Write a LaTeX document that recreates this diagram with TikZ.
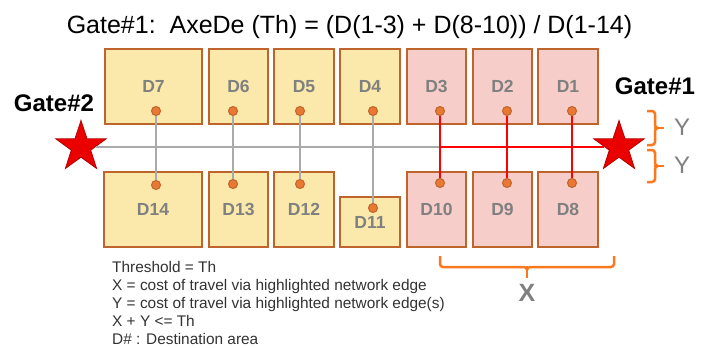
\documentclass[tikz,border=0pt]{standalone}
\usepackage{fontspec}
\setmainfont{Liberation Sans}
\usetikzlibrary{shapes.geometric}

\definecolor{areaYellow}{RGB}{250,233,170}
\definecolor{areaPink}{RGB}{246,205,200}
\definecolor{areaEdge}{RGB}{192,100,45}
\definecolor{dotFill}{RGB}{232,120,50}
\definecolor{labelGray}{RGB}{128,128,128}
\definecolor{edgeGray}{RGB}{170,170,170}
\definecolor{braceOrange}{RGB}{250,120,30}
\definecolor{noteText}{RGB}{50,50,50}
\definecolor{starRed}{RGB}{235,0,0}
\definecolor{starEdge}{RGB}{180,0,0}

\tikzset{
  area/.style={draw=areaEdge, line width=2.5pt, inner sep=0pt,
    text=labelGray, font=\fontsize{17.5}{20}\selectfont\bfseries},
  yarea/.style={area, fill=areaYellow},
  parea/.style={area, fill=areaPink},
  pin/.style={circle, draw=areaEdge, fill=dotFill, line width=1pt,
    minimum size=9pt, inner sep=0pt},
  gate/.style={star, star points=5, star point ratio=2.6, minimum size=53pt,
    inner sep=0pt, fill=starRed, draw=starEdge, line width=0.8pt},
  gatelabel/.style={font=\fontsize{24}{28}\selectfont\bfseries, text=black},
  greyedge/.style={draw=edgeGray, line width=2.7pt},
  rededge/.style={draw=red, line width=2.7pt},
  bracket/.style={draw=braceOrange, line width=2.5pt, rounded corners=3pt},
  note/.style={anchor=base west, inner sep=0pt, text=noteText,
    font=\fontsize{15.4}{18}\selectfont},
}

\begin{document}
\begin{tikzpicture}[x=1pt, y=-1pt]
\useasboundingbox (0,0) rectangle (707,348);

% title
\node[anchor=base, inner sep=0pt, font=\fontsize{25}{30}\selectfont] (title)
  at (349.5,33) {Gate\#1:\ \ AxeDe (Th) = (D(1-3) + D(8-10)) / D(1-14)};

% destination areas, upper row
\node[yarea, minimum width=97pt, minimum height=75pt] (b7) at (153.5,86.5) {D7};
\node[yarea, minimum width=59pt, minimum height=75pt] (b6) at (238.5,86.5) {D6};
\node[yarea, minimum width=60pt, minimum height=75pt] (b5) at (304,86.5) {D5};
\node[yarea, minimum width=60pt, minimum height=75pt] (b4) at (370,86.5) {D4};
\node[parea, minimum width=59pt, minimum height=75pt] (b3) at (436.5,86.5) {D3};
\node[parea, minimum width=59pt, minimum height=75pt] (b2) at (502.5,86.5) {D2};
\node[parea, minimum width=60pt, minimum height=75pt] (b1) at (568,86.5) {D1};

% destination areas, lower row
\node[yarea, minimum width=98pt, minimum height=75pt] (b14) at (153,209.5) {D14};
\node[yarea, minimum width=59pt, minimum height=75pt] (b13) at (238.5,209.5) {D13};
\node[yarea, minimum width=60pt, minimum height=75pt] (b12) at (304,209.5) {D12};
\node[yarea, minimum width=60pt, minimum height=50pt] (b11) at (370,222) {D11};
\node[parea, minimum width=59pt, minimum height=75pt] (b10) at (436.5,209.5) {D10};
\node[parea, minimum width=59pt, minimum height=75pt] (b9) at (502.5,209.5) {D9};
\node[parea, minimum width=60pt, minimum height=75pt] (b8) at (568,209.5) {D8};

% gates
\node[gate] (g2) at (81,147) {};
\node[gate] (g1) at (619,147) {};
\node[gatelabel] (g2t) at (54,103) {Gate\#2};
\node[gatelabel] (g1t) at (655,86) {Gate\#1};

% connection pins
\node[pin] (p7) at (156,111) {};
\node[pin] (p6) at (233,111) {};
\node[pin] (p5) at (300,111) {};
\node[pin] (p4) at (373,111) {};
\node[pin] (p3) at (440,111) {};
\node[pin] (p2) at (507,111) {};
\node[pin] (p1) at (572,111) {};
\node[pin] (q14) at (156,185) {};
\node[pin] (q13) at (233,184) {};
\node[pin] (q12) at (300,184) {};
\node[pin] (q11) at (373,208) {};
\node[pin] (q10) at (440,183) {};
\node[pin] (q9) at (507,183) {};
\node[pin] (q8) at (572,183) {};

% network edges
\coordinate (j3) at (440,147);
\draw[greyedge] (g2) -- (g1);
\draw[greyedge] (p7) -- (q14);
\draw[greyedge] (p6) -- (q13);
\draw[greyedge] (p5) -- (q12);
\draw[greyedge] (p4) -- (q11);
\draw[rededge] (j3) -- (g1);
\draw[rededge] (p3) -- (q10);
\draw[rededge] (p2) -- (q9);
\draw[rededge] (p1) -- (q8);

% Y brackets
\coordinate (ya) at (647,111);
\coordinate (yb) at (647,145);
\coordinate (yc) at (647,150);
\coordinate (yd) at (647,182);
\draw[bracket] (ya) -- (655,111) -- (655,128) -- (658,128);
\draw[bracket] (yb) -- (655,145) -- (655,128) -- (658,128);
\draw[bracket, rounded corners=0pt] (654,128) -- (664,128);
\draw[bracket] (yc) -- (655,150) -- (655,166) -- (658,166);
\draw[bracket] (yd) -- (655,182) -- (655,166) -- (658,166);
\draw[bracket, rounded corners=0pt] (654,166) -- (664,166);
\node[text=labelGray, font=\fontsize{24}{28}\selectfont] (y1) at (682,127) {Y};
\node[text=labelGray, font=\fontsize{24}{28}\selectfont] (y2) at (682,165) {Y};

% X bracket
\coordinate (xa) at (440,256);
\coordinate (xb) at (614,256);
\draw[bracket] (xa) -- (440,267) -- (527,267) -- (527,270);
\draw[bracket] (xb) -- (614,267) -- (527,267) -- (527,270);
\draw[bracket, rounded corners=0pt] (527,266) -- (527,278);
\node[text=labelGray, font=\fontsize{25}{30}\selectfont\bfseries] (xl) at (527,293) {X};

% notes
\node[note] (n1) at (112,272.5) {Threshold = Th};
\node[note] (n2) at (112,290.5) {X = cost of travel via highlighted network edge};
\node[note] (n3) at (112,308.5) {Y = cost of travel via highlighted network edge(s)};
\node[note] (n4) at (112,326.5) {X + Y <= Th};
\node[note] (n5) at (112,344.5) {D\# : Destination area};
\end{tikzpicture}
\end{document}
